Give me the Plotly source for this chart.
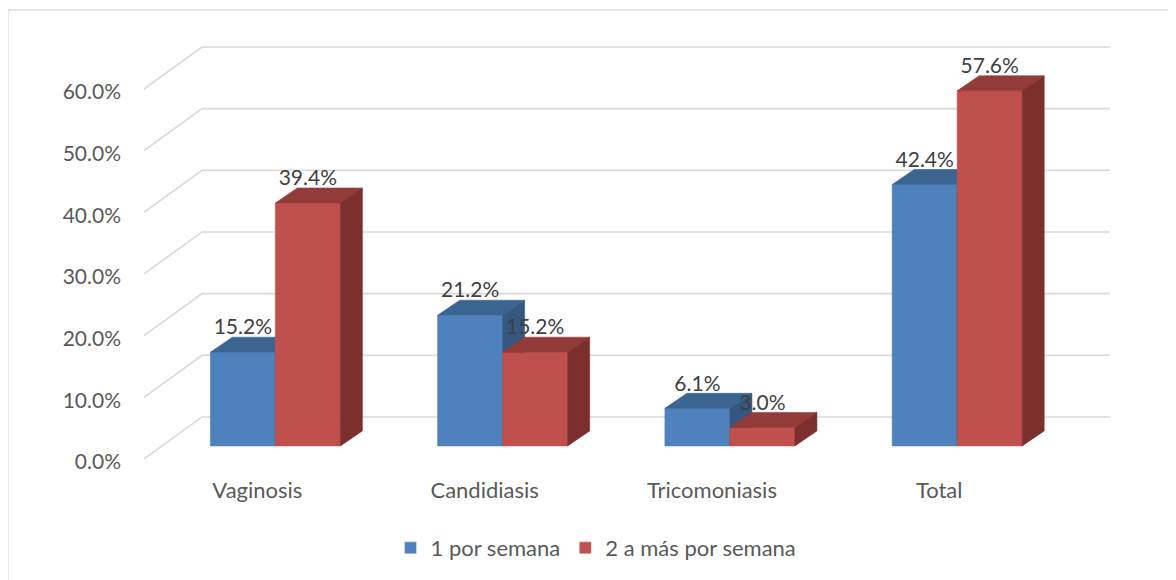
import plotly.graph_objects as go

# ---------------- data ----------------
categories = ["Vaginosis", "Candidiasis", "Tricomoniasis", "Total"]
series_names = ["1 por semana", "2 a más por semana"]
uno_por_semana = [15.2, 21.2, 6.1, 42.4]
dos_a_mas = [39.4, 15.2, 3.0, 57.6]
y_ticks = [0, 10, 20, 30, 40, 50, 60]
y_tick_labels = ["0.0%", "10.0%", "20.0%", "30.0%", "40.0%", "50.0%", "60.0%"]

# ---------------- layout constants ----------------
W, H = 1176, 580
OFF = 8  # page body margin shifts the figure by this many pixels
# plot area in screen pixels
PL, PR, PT, PB = 139, 1139, 39, 478
ML, MT = PL - OFF, PT - OFF
MR, MB = W - (PR - OFF), H - (PB - OFF)
X_RANGE = [-0.6, 3.8]
Y_RANGE = [-5.2, 66]
PW = PR - PL
PH = PB - PT
px_x = PW / (X_RANGE[1] - X_RANGE[0])
px_y = PH / (Y_RANGE[1] - Y_RANGE[0])

BAR_W = 65 / px_x
DEPTH_DX = 22 / px_x
DEPTH_DY = 15 / px_y
FLOOR_FRONT_DX = -18 / px_x
FLOOR_FRONT_DY = -13 / px_y
FLOOR_BACK_DY = 29 / px_y
WALL_LEFT_FRONT_X = X_RANGE[0] + (144 - PL) / px_x
WALL_LEFT_BACK_X = WALL_LEFT_FRONT_X + 58 / px_x
WALL_RIGHT_X = X_RANGE[0] + (1110 - PL) / px_x
LABEL_DY = 8 / px_y
YTICK_DY = -16 / px_y

colors = {
    "front": ["#4F81BD", "#C0504D"],
    "top": ["#3C6490", "#933B39"],
    "side": ["#34587F", "#7D2F2E"],
}

FONT = "Lato, Carlito, Calibri, sans-serif"

fig = go.Figure()

# legend-only entries
for k, name in enumerate(series_names):
    fig.add_trace(go.Bar(x=[None], y=[None], name=name,
                         marker=dict(color=colors["front"][k]),
                         showlegend=True, hoverinfo="skip"))

# back wall gridlines + floor diagonals
gx, gy = [], []
for v in y_ticks:
    gx += [WALL_LEFT_FRONT_X, WALL_LEFT_BACK_X, WALL_RIGHT_X, None]
    gy += [v + FLOOR_FRONT_DY, v + FLOOR_BACK_DY, v + FLOOR_BACK_DY, None]
fig.add_trace(go.Scatter(x=gx, y=gy, mode="lines",
                         line=dict(color="#D9D9D9", width=1.6),
                         showlegend=False, hoverinfo="skip"))


def add_poly(xs, ys, color):
    fig.add_trace(go.Scatter(x=xs + [xs[0]], y=ys + [ys[0]], mode="lines",
                             fill="toself", fillcolor=color,
                             line=dict(color=color, width=0.6),
                             showlegend=False, hoverinfo="skip"))


series = [uno_por_semana, dos_a_mas]
label_x, label_y, label_t = [], [], []
for i, cat in enumerate(categories):
    for k, vals in enumerate(series):
        v = vals[i]
        x0 = i - BAR_W + k * BAR_W
        x1 = x0 + BAR_W
        # front face
        add_poly([x0, x0, x1, x1], [0, v, v, 0], colors["front"][k])
        # top face
        add_poly([x0, x0 + DEPTH_DX, x1 + DEPTH_DX, x1],
                 [v, v + DEPTH_DY, v + DEPTH_DY, v], colors["top"][k])
        # side face
        add_poly([x1, x1, x1 + DEPTH_DX, x1 + DEPTH_DX],
                 [0, v, v + DEPTH_DY, DEPTH_DY], colors["side"][k])
        label_x.append((x0 + x1) / 2)
        label_y.append(v + DEPTH_DY + LABEL_DY)
        label_t.append(f"{v:.1f}%")

fig.add_trace(go.Scatter(x=label_x, y=label_y, text=label_t, mode="text",
                         textposition="middle center",
                         textfont=dict(family=FONT, size=21, color="#404040"),
                         showlegend=False, hoverinfo="skip"))

fig.update_layout(
    width=W, height=H,
    margin=dict(l=ML, r=MR, t=MT, b=MB, pad=0),
    paper_bgcolor="white", plot_bgcolor="white",
    font=dict(family=FONT, size=22, color="#595959"),
    hovermode=False,
    xaxis=dict(range=X_RANGE, showgrid=False, zeroline=False, showline=False,
               tickmode="array",
               tickvals=[i + FLOOR_FRONT_DX for i in range(len(categories))],
               ticktext=categories, ticks="", ticklabelstandoff=-3,
               tickfont=dict(family=FONT, size=22, color="#595959")),
    yaxis=dict(range=Y_RANGE, showgrid=False, zeroline=False, showline=False,
               tickmode="array",
               tickvals=[v + YTICK_DY for v in y_ticks],
               ticktext=y_tick_labels, ticks="", ticklabelstandoff=17,
               tickfont=dict(family=FONT, size=21, color="#595959")),
    legend=dict(orientation="h", x=(596 - PL) / PW, xanchor="center",
                y=(PB - 548) / PH, yanchor="middle",
                font=dict(family=FONT, size=22, color="#595959"),
                itemclick=False, itemdoubleclick=False),
    shapes=[dict(type="rect", xref="paper", yref="paper",
                 x0=(8 - PL) / PW, x1=(1200 - PL) / PW,
                 y0=(PB - 600) / PH, y1=(PB - 10) / PH,
                 line=dict(color="#D9D9D9", width=1.3), fillcolor="rgba(0,0,0,0)",
                 layer="below")],
)

fig.write_html("out.html")
